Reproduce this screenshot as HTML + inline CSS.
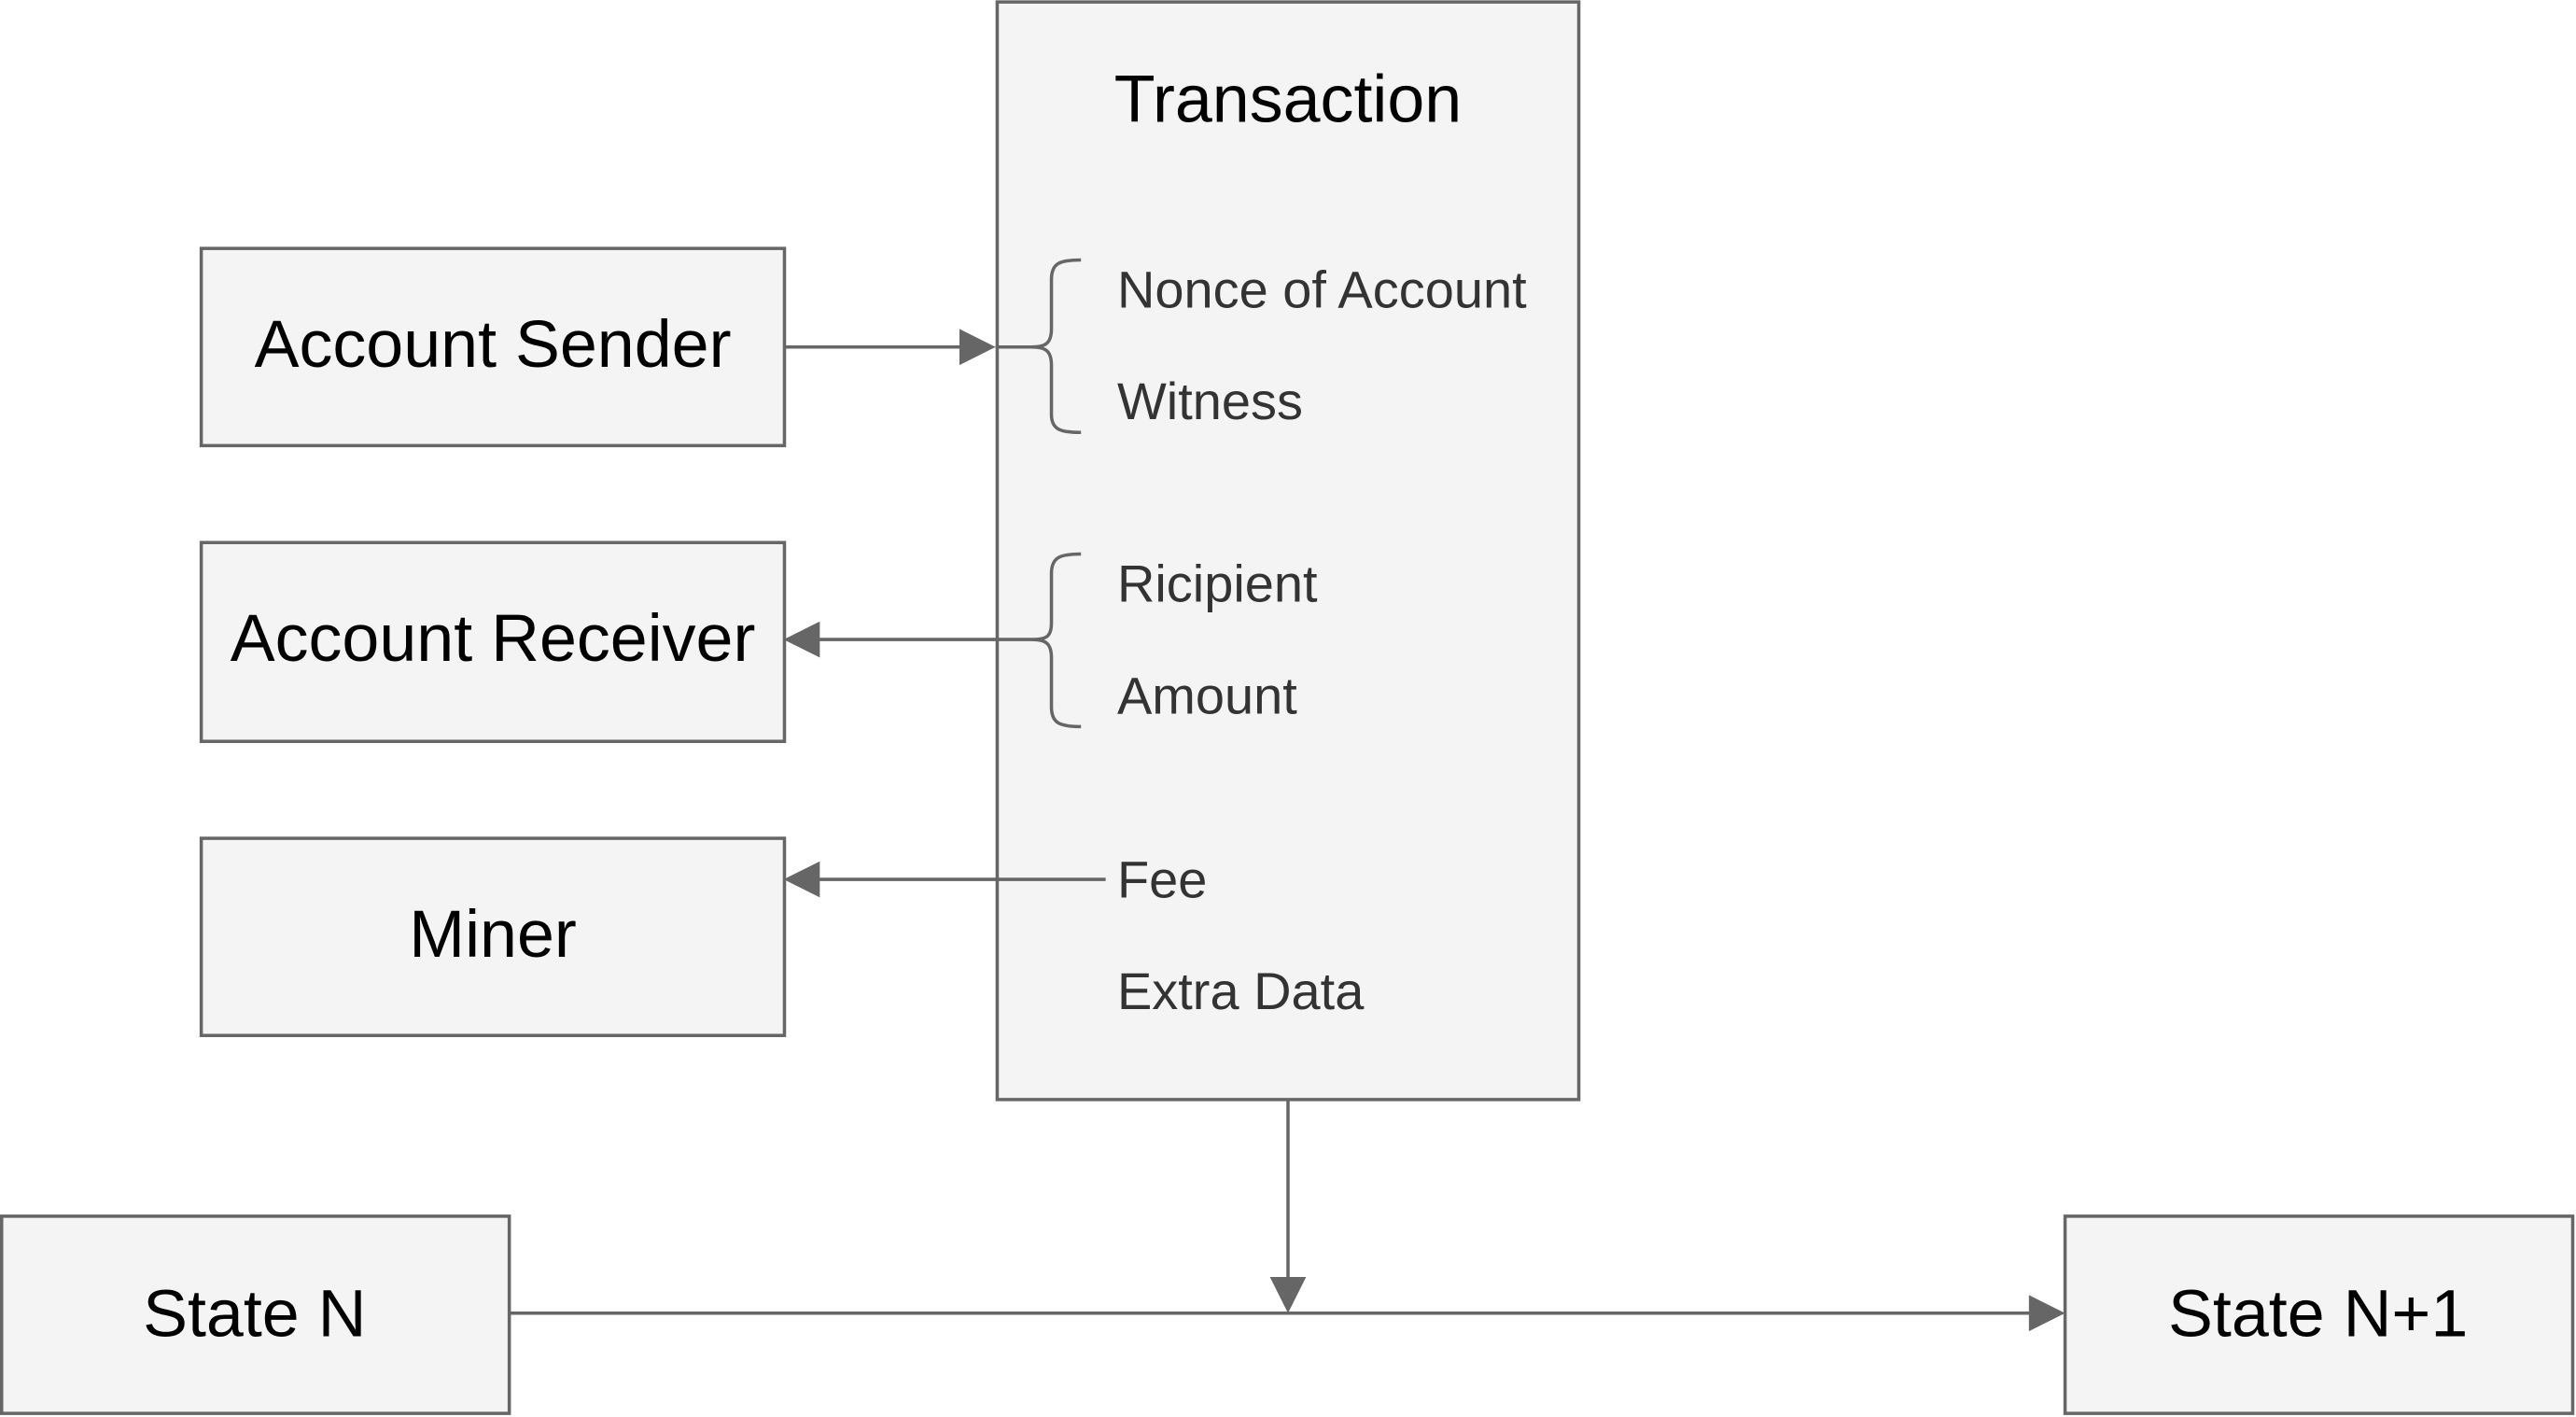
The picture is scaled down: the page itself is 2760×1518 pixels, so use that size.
<!DOCTYPE html>
<html><head><meta charset="utf-8"><style>
html,body{margin:0;padding:0;background:#fff;}
svg{display:block;}
</style></head><body>
<svg width="2760" height="1518" viewBox="0 0 1568 862" xmlns="http://www.w3.org/2000/svg" font-family="Liberation Sans, Arial, sans-serif">
<g fill="#f4f4f4" stroke="#666" stroke-width="2">
<rect x="607" y="1" width="354" height="668"/>
<rect x="122.5" y="151" width="355" height="120"/>
<rect x="122.5" y="330" width="355" height="121"/>
<rect x="122.5" y="510" width="355" height="120"/>
<rect x="1" y="740" width="309" height="120"/>
<rect x="1257" y="740" width="309" height="120"/>
</g>
<g fill="#000" text-anchor="middle" font-size="40.8">
<text x="784" y="74">Transaction</text>
<text x="300" y="223">Account Sender</text>
<text x="300" y="402">Account Receiver</text>
<text x="300" y="582">Miner</text>
<text x="155" y="813">State N</text>
<text x="1411" y="813">State N+1</text>
</g>
<g fill="#333" font-size="31.8">
<text x="680" y="187">Nonce of Account</text>
<text x="680" y="255">Witness</text>
<text x="680" y="366">Ricipient</text>
<text x="680" y="434">Amount</text>
<text x="680" y="546">Fee</text>
<text x="680" y="614">Extra Data</text>
</g>
<g fill="none" stroke="#666" stroke-width="2">
<path d="M658,158 C645,158 640,160 640,170 L640,200 C640,209 636,211 628,211 L606,211 M628,211 C636,211 640,213 640,222 L640,252 C640,261 645,263 658,263"/>
<path d="M658,337 C645,337 640,339 640,349 L640,379 C640,388 636,389 628,389 L495,389 M628,389 C636,389 640,391 640,400 L640,430 C640,440 645,442 658,442"/>
<line x1="477" y1="211" x2="586" y2="211"/>
<line x1="673" y1="535" x2="495" y2="535"/>
<line x1="784" y1="669" x2="784" y2="779"/>
<line x1="310" y1="799" x2="1237" y2="799"/>
</g>
<g fill="#666">
<polygon points="606,211 584,200 584,222"/>
<polygon points="477,389 499,378 499,400"/>
<polygon points="477,535 499,524 499,546"/>
<polygon points="784,799 773,777 795,777"/>
<polygon points="1257,799 1235,788 1235,810"/>
</g>
</svg>
</body></html>
